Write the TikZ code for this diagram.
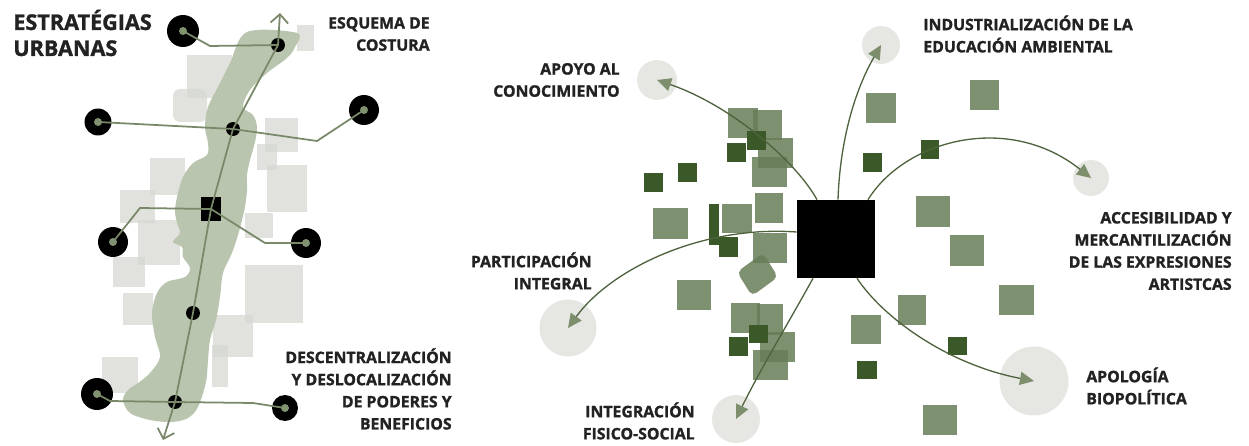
\documentclass[tikz,border=0pt]{standalone}
\usepackage{fontspec}
\setmainfont{Open Sans}[BoldFeatures={FakeBold=1.3}]
\usepackage{xcolor}
\usetikzlibrary{positioning,calc,arrows.meta}

\definecolor{sage}{RGB}{186,197,175}
\definecolor{mist}{RGB}{212,214,208}
\definecolor{seamgreen}{RGB}{120,136,104}
\definecolor{dotgreen}{RGB}{128,146,112}
\definecolor{leafgreen}{RGB}{102,124,87}
\definecolor{darkleaf}{RGB}{58,88,40}
\definecolor{flowgreen}{RGB}{78,98,62}
\definecolor{tipgreen}{RGB}{124,142,108}
\definecolor{goalgray}{RGB}{230,231,227}
\definecolor{ink}{RGB}{34,34,34}

\begin{document}
\begin{tikzpicture}[x=0.02cm, y=-0.02cm,
  ring/.style={circle, fill=black, inner sep=0pt, minimum size=0.6cm},
  knot/.style={circle, fill=black, inner sep=0pt, minimum size=0.28cm},
  core/.style={rectangle, fill=black, inner sep=0pt},
  goal/.style={circle, fill=goalgray, inner sep=0pt},
  seam/.style={draw=seamgreen, line width=1pt},
  flow/.style={draw=flowgreen, line width=0.75pt, -{Triangle[length=8pt,width=7.5pt,color=tipgreen,fill=tipgreen]}},
  note/.style={font=\fontsize{9}{12.6}\selectfont\bfseries, text=ink, inner sep=0pt},
  mistsq/.style={fill=mist, fill opacity=0.7},
  leafsq/.style={fill=leafgreen, fill opacity=0.85},
  darksq/.style={fill=darkleaf}
]
\useasboundingbox (0,0) rectangle (1249,446);

% left: urban seam
\foreach \x/\y/\w/\h in {297/25/17/26, 187/55/45/43, 265/118/33/34, 257/144/20/26,
  267/165/40/47, 150/158/35/37, 120/190/35/33, 138/220/42/45, 245/213/28/25,
  113/257/32/30, 123/293/30/32, 245/265/58/58, 213/315/40/42, 212/345/16/42, 102/357/36/36}
  \fill[mistsq] (\x,\y) rectangle ++(\w,\h);
\fill[mistsq, rounded corners=4pt] (173,89) rectangle (207,122);

\fill[sage] plot[smooth cycle, tension=0.55] coordinates {
  (247,32) (297,33) (295,47) (287,58) (267,73) (250,90) (243,107) (253,115) (257,127)
  (255,142) (250,160) (247,175) (247,190) (245,207) (242,220) (238,235) (232,253)
  (223,273) (220,297) (216,320) (210,340) (208,360) (206,382) (198,407) (188,418)
  (172,422) (150,420) (130,413) (123,400) (128,390) (138,383) (150,373) (160,357)
  (155,337) (152,313) (157,293) (167,282) (185,277) (190,268) (183,257) (182,247)
  (173,242) (180,233) (177,223) (175,210) (178,193) (183,177) (193,163) (207,155)
  (208,143) (205,127) (208,107) (220,83) (230,63)};

\node[ring, minimum size=0.64cm] (o1) at (183,31) {};
\node[ring, minimum size=0.54cm] (o2) at (98,122) {};
\node[ring] (o3) at (364,110) {};
\node[ring] (o4) at (113,242) {};
\node[ring] (o5) at (306,243) {};
\node[ring, minimum size=0.64cm] (o6) at (97,394) {};
\node[ring, minimum size=0.52cm] (o7) at (285,408) {};

\node[knot] (a1) at (278,45) {};
\node[knot] (a2) at (233,129) {};
\node[core, minimum width=0.42cm, minimum height=0.5cm] (a3) at (211,209) {};
\node[knot] (a4) at (193,313) {};
\node[knot] (a5) at (175,402) {};
\coordinate (axtop) at (280,13);
\coordinate (axbot) at (163,440);

\draw[seam] (o1.center) -- (210,46) -- (a1.center);
\draw[seam] (o2.center) -- (a2.center) -- (317,141) -- (o3.center);
\draw[seam] (o4.center) -- (140,208) -- (a3.center) -- (265,243) -- (o5.center);
\draw[seam] (o6.center) -- (110,401) -- (a5.center) -- (253,403) -- (o7.center);
\draw[seam, {Straight Barb[length=5pt,width=10pt]}-{Straight Barb[length=5pt,width=10pt]}]
  (axbot) -- (a5.center) -- (a4.center) -- (a3.center) -- (a2.center) -- (a1.center) -- (axtop);
\foreach \n in {o1,o2,o3,o4,o5,o6,o7}
  \fill[dotgreen] (\n) circle (0.08cm);

\node[note, font=\fontsize{12.3}{14.8}\selectfont\bfseries, align=left, anchor=west] (title) at (13,33) {ESTRATÉGIAS\\URBANAS};
\node[note, align=right, anchor=east] (seamtxt) at (430,34) {ESQUEMA DE\\COSTURA};
\node[note, align=right, anchor=east] (decentxt) at (452,389) {DESCENTRALIZACIÓN\\Y DESLOCALIZACIÓN\\DE PODERES Y\\BENEFICIOS};

% right: strategies
\node[goal, minimum size=0.8cm] (g1) at (657,80) {};
\node[goal, minimum size=1.14cm] (g2) at (568,328) {};
\node[goal, minimum size=0.96cm] (g3) at (736,419) {};
\node[goal, minimum size=0.76cm] (g4) at (881,45) {};
\node[goal, minimum size=0.72cm] (g5) at (1091,178) {};
\node[goal, minimum size=1.38cm] (g6) at (1034,381) {};

\foreach \x/\y/\w/\h in {728/108/30/30, 753/110/29/30, 758/138/35/30, 752/157/35/30,
  755/193/28/30, 653/208/35/31, 722/204/30/29, 753/233/34/30, 677/280/34/30,
  731/303/29/30, 757/304/26/31, 760/332/35/30, 753/350/35/30, 866/93/30/30,
  970/80/29/30, 916/196/34/31, 950/235/34/31, 999/285/35/30, 898/295/28/30,
  851/315/30/29, 923/405/34/30}
  \fill[leafsq] (\x,\y) rectangle ++(\w,\h);
\fill[leafsq, rounded corners=3pt] (737,272) -- (763,253) -- (778,277) -- (752,296) -- cycle;
\foreach \x/\y/\w/\h in {747/131/19/19, 727/143/19/19, 644/173/19/19, 678/163/19/19,
  709/204/10/41, 719/237/19/20, 749/325/19/18, 729/337/19/19, 863/153/19/19,
  921/140/18/19, 948/337/19/18, 857/361/20/18}
  \fill[darksq] (\x,\y) rectangle ++(\w,\h);

\node[core, minimum size=1.56cm] (hub) at (836,239) {};

\draw[flow] ($(hub.north)+(-19,0)$) .. controls (795,160) and (730,105) .. (g1.center);
\draw[flow] ($(hub.west)+(0,-7)$) .. controls (700,225) and (610,270) .. (g2.center);
\draw[flow] ($(hub.south)+(-23,0)$) .. controls (790,320) and (760,370) .. (g3.center);
\draw[flow] ($(hub.north)+(2,0)$) .. controls (840,140) and (855,90) .. (g4.center);
\draw[flow] ($(hub.north)+(32,0)$) .. controls (905,140) and (1008,112) .. (g5.center);
\draw[flow] ($(hub.south)+(21,0)$) .. controls (885,320) and (950,365) .. (g6.center);

\node[note, align=right, anchor=east] (t1) at (620,80) {APOYO AL\\CONOCIMIENTO};
\node[note, align=right, anchor=east] (t2) at (592,271) {PARTICIPACIÓN\\INTEGRAL};
\node[note, align=right, anchor=east] (t3) at (695,421) {INTEGRACIÓN\\FISICO-SOCIAL};
\node[note, align=left, anchor=west] (t4) at (923,34) {INDUSTRIALIZACIÓN DE LA\\EDUCACIÓN AMBIENTAL};
\node[note, align=right, anchor=east] (t5) at (1232,251) {ACCESIBILIDAD Y\\MERCANTILIZACIÓN\\DE LAS EXPRESIONES\\ARTISTCAS};
\node[note, align=left, anchor=west] (t6) at (1086,386) {APOLOGÍA\\BIOPOLÍTICA};
\end{tikzpicture}
\end{document}
